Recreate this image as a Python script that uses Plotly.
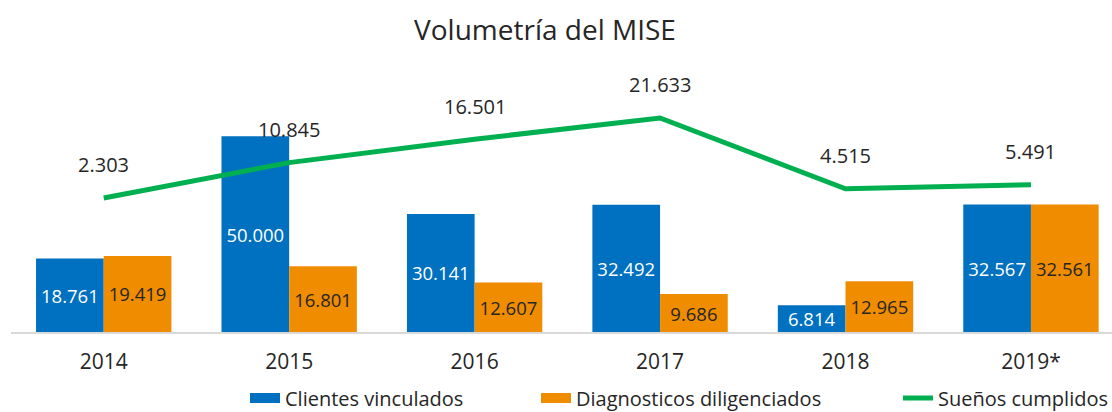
import plotly.graph_objects as go

years = ["2014", "2015", "2016", "2017", "2018", "2019*"]
clientes = [18761, 50000, 30141, 32492, 6814, 32567]
diagnosticos = [19419, 16801, 12607, 9686, 12965, 32561]
suenos = [2303, 10845, 16501, 21633, 4515, 5491]

FONT = "Open Sans"
BLUE = "#0070C0"
ORANGE = "#F08C00"
GREEN = "#00B050"
TXT = "#262626"

def fmt(v):
    return f"{v:,}".replace(",", ".")

fig = go.Figure()
fig.add_trace(go.Bar(
    x=years, y=clientes, name="Clientes vinculados", showlegend=False,
    marker=dict(color=BLUE, line=dict(width=0)),
    text=[fmt(v) for v in clientes], textposition="inside",
    insidetextanchor="middle", textangle=0, constraintext="none",
    insidetextfont=dict(color="white", size=18.5, family=FONT),
))
fig.add_trace(go.Bar(
    x=years, y=diagnosticos, name="Diagnosticos diligenciados", showlegend=False,
    marker=dict(color=ORANGE, line=dict(width=0)),
    text=[fmt(v) for v in diagnosticos], textposition="inside",
    insidetextanchor="middle", textangle=0, constraintext="none",
    insidetextfont=dict(color=TXT, size=18.5, family=FONT),
))
fig.add_trace(go.Scatter(
    x=years, y=suenos, name="Sueños cumplidos", yaxis="y2",
    mode="lines", line=dict(color=GREEN, width=5), showlegend=False,
))

# legend entries (wide swatches like the reference)
for name, col, lw, lg in [("Clientes vinculados", BLUE, 14, "legend"),
                          ("Diagnosticos diligenciados", ORANGE, 14, "legend2"),
                          ("Sueños cumplidos", GREEN, 5, "legend3")]:
    fig.add_trace(go.Scatter(x=[None], y=[None], mode="lines", name=name,
                             line=dict(color=col, width=lw), legend=lg,
                             showlegend=True))

for i, v in enumerate(suenos):
    fig.add_annotation(x=i, y=v, xref="x", yref="y2", text=fmt(v),
                       showarrow=False, yshift=33, yanchor="middle",
                       font=dict(size=20, color=TXT, family=FONT))

legend_common = dict(orientation="h", yref="container", y=1 - 398 / 412,
                     yanchor="middle", xref="container", xanchor="left",
                     font=dict(size=20, color=TXT, family=FONT),
                     bgcolor="rgba(0,0,0,0)")

fig.update_layout(
    width=1112, height=412,
    margin=dict(l=11, r=0, t=97, b=80, autoexpand=False),
    paper_bgcolor="white", plot_bgcolor="white",
    font=dict(family=FONT, color=TXT),
    title=dict(text="Volumetría del MISE", x=545 / 1112, xanchor="center",
               y=1 - 30 / 412, yanchor="middle", yref="container",
               font=dict(size=28, color=TXT, family=FONT)),
    barmode="group", bargap=0.27, bargroupgap=0,
    showlegend=True,
    legend=dict(x=245 / 1112, **legend_common),
    legend2=dict(x=536 / 1112, **legend_common),
    legend3=dict(x=898 / 1112, **legend_common),
    xaxis=dict(type="category", range=[-0.5, 5.437], showline=True,
               linecolor="#D9D9D9", linewidth=2, ticks="", showgrid=False,
               tickfont=dict(size=21, color=TXT, family=FONT),
               ticklabelstandoff=10),
    yaxis=dict(range=[0, 60000], visible=False, showgrid=False, fixedrange=True),
    yaxis2=dict(range=[-30080, 26700], overlaying="y", visible=False,
                showgrid=False),
)

fig.write_html("out.html", config={"displayModeBar": False},
               post_script="document.body.style.margin='0';document.body.style.overflow='hidden';")
